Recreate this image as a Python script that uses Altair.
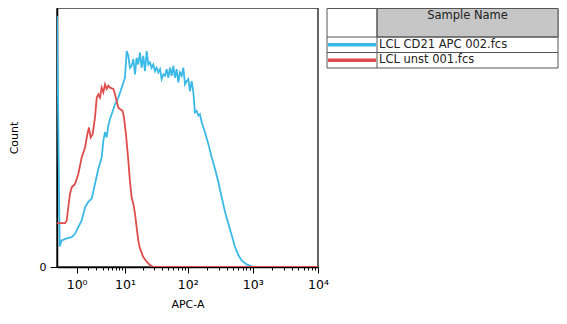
import altair as alt
import pandas as pd

# ---- data ----
samples = ["LCL CD21 APC 002.fcs", "LCL unst 001.fcs"]
colors = ["#3bb9e6", "#e04b4b"]
header_text = "Sample Name"

apc_blue = [0, 0.1, 0.18, 0.41, 0.68, 0.89, 1.12, 1.39, 1.69, 2.02, 2.4, 2.82, 3.3, 3.84, 4.13, 4.44,
            4.77, 5.12, 5.49, 5.88, 6.74, 7.71, 8.8, 10.0, 10.7, 11.4, 12.1, 12.9, 13.8, 14.7, 15.6,
            16.6, 17.7, 18.8, 20.0, 21.3, 22.7, 24.1, 25.6, 27.2, 28.9, 30.8, 32.7, 34.7, 36.9, 39.2,
            41.6, 44.2, 46.9, 49.8, 52.9, 56.2, 59.6, 63.3, 67.2, 71.3, 75.7, 80.4, 85.3, 90.6, 96.1,
            102, 108, 115, 122, 129, 137, 146, 154, 164, 184, 208, 234, 263, 296, 333, 375, 422, 474,
            534, 600, 675, 806, 962, 1147, 10000]
count_blue = [378, 31, 40, 43, 45, 50, 60, 70, 90, 98, 103, 125, 148, 165, 190, 203,
              195, 213, 223, 230, 245, 255, 270, 285, 325, 318, 300, 303, 313, 290, 315,
              305, 323, 300, 318, 295, 325, 305, 308, 300, 305, 295, 300, 293, 298, 283,
              290, 288, 298, 285, 300, 288, 303, 285, 298, 278, 293, 288, 300, 275, 280,
              283, 265, 280, 263, 233, 235, 228, 230, 218, 203, 185, 165, 148, 128, 105, 83, 65, 48,
              30, 18, 10, 4, 1, 0, 0]

apc_red = [0, 0.18, 0.33, 0.41, 0.49, 0.58, 0.68, 0.89, 1.12, 1.39, 1.69, 1.92, 2.09, 2.28, 2.52,
           2.82, 3.06, 3.3, 3.56, 3.84, 4.13, 4.44, 4.77, 5.12, 5.49, 6.3, 6.74, 7.21, 7.71, 8.23,
           9.15, 9.63, 10.4, 11.4, 12.1, 12.9, 13.8, 14.7, 15.6, 16.6, 17.7, 20.0, 22.7, 25.6, 28.9,
           10000]
count_red = [66, 66, 66, 70, 90, 110, 120, 125, 140, 165, 180, 200, 210, 195, 200,
             225, 255, 260, 255, 270, 263, 275, 268, 273, 270, 268, 260, 250, 240, 238,
             235, 225, 200, 160, 130, 105, 95, 80, 60, 40, 28, 15, 8, 3, 0,
             0]

major_ticks = [1, 10, 100, 1000, 10000]
major_labels = ["10⁰", "10¹", "10²", "10³", "10⁴"]
minor_ticks = [m * d for d in major_ticks[:-1] for m in range(2, 10)]

df = pd.concat([
    pd.DataFrame({"APC-A": apc_blue, "Count": count_blue, "sample": samples[0]}),
    pd.DataFrame({"APC-A": apc_red, "Count": count_red, "sample": samples[1]}),
])

label_expr = " : ".join(
    f"datum.value == {v} ? '{l}'" for v, l in zip(major_ticks, major_labels)
) + " : ''"
major_test = "indexof([" + ",".join(str(v) for v in major_ticks) + "], datum.value) >= 0"

W, H = 261, 259

lines = alt.Chart(df).mark_line(strokeWidth=1.8, clip=True).encode(
    x=alt.X("APC-A:Q",
            scale=alt.Scale(type="symlog", constant=1, domain=[0, 10000], nice=False),
            axis=alt.Axis(values=major_ticks + minor_ticks, labelExpr=label_expr,
                          tickSize={"condition": {"test": major_test, "value": 6}, "value": 3},
                          labelOverlap=False, labelFlush=False, labelPadding=5,
                          labelFontSize=12.5, title="APC-A", titleFontSize=11,
                          titleFontWeight="normal", titlePadding=8, grid=False)),
    y=alt.Y("Count:Q", scale=alt.Scale(domain=[0, 390], nice=False),
            axis=alt.Axis(values=[0], tickSize=7, labelPadding=4, labelFontSize=11,
                          title="Count", titleFontSize=11, titleFontWeight="normal",
                          titlePadding=20, grid=False)),
    color=alt.Color("sample:N", scale=alt.Scale(domain=samples, range=colors), legend=None),
    detail="sample:N",
)

# ---- legend table (drawn beside the plot) ----
one = pd.DataFrame({"k": [0]})
tx0, tx1, tx2 = 270, 320, 501      # left border, column divider, right border
ty0, ty_head, row_h = 0.5, 29, 15.5
ty_bot = ty_head + row_h * len(samples)

layers = [lines]
layers.append(alt.Chart(one).mark_rect(fill="white", stroke="#555555", strokeWidth=1).encode(
    x=alt.value(tx0), x2=alt.value(tx2), y=alt.value(ty0), y2=alt.value(ty_bot)))
layers.append(alt.Chart(one).mark_rect(fill="#c6c6c6", stroke="#555555", strokeWidth=1).encode(
    x=alt.value(tx1), x2=alt.value(tx2), y=alt.value(ty0), y2=alt.value(ty_head)))
layers.append(alt.Chart(one).mark_rule(color="#555555", strokeWidth=1).encode(
    x=alt.value(tx1), y=alt.value(ty0), y2=alt.value(ty_bot)))
layers.append(alt.Chart(pd.DataFrame({"h": [header_text]})).mark_text(
    fontSize=11.5, align="center", baseline="middle", color="#222222").encode(
    x=alt.value((tx1 + tx2) / 2), y=alt.value(8), text="h:N"))
for i, (name, col) in enumerate(zip(samples, colors)):
    top = ty_head + i * row_h
    mid = top + row_h / 2
    layers.append(alt.Chart(one).mark_rule(color="#555555", strokeWidth=1).encode(
        x=alt.value(tx0), x2=alt.value(tx2), y=alt.value(top)))
    layers.append(alt.Chart(one).mark_rule(color=col, strokeWidth=3.5).encode(
        x=alt.value(tx0 + 1), x2=alt.value(tx1 - 1), y=alt.value(mid)))
    layers.append(alt.Chart(pd.DataFrame({"s": [name]})).mark_text(
        fontSize=11.5, align="left", baseline="middle", color="#222222").encode(
        x=alt.value(tx1 + 2), y=alt.value(mid), text="s:N"))

chart = alt.layer(*layers).properties(
    width=W, height=H,
    autosize=alt.AutoSizeParams(type="none"),
    padding={"left": 49, "top": 0, "right": 241, "bottom": 49},
).configure(font="DejaVu Sans").configure_view(
    stroke="#333333", strokeWidth=1.5
).configure_axis(
    domainColor="black", domainWidth=1.5, tickColor="black", tickWidth=1,
    labelColor="black", titleColor="black", labelFont="DejaVu Sans", titleFont="DejaVu Sans"
)

chart.save("out.html", embed_options={"renderer": "svg", "actions": False})
